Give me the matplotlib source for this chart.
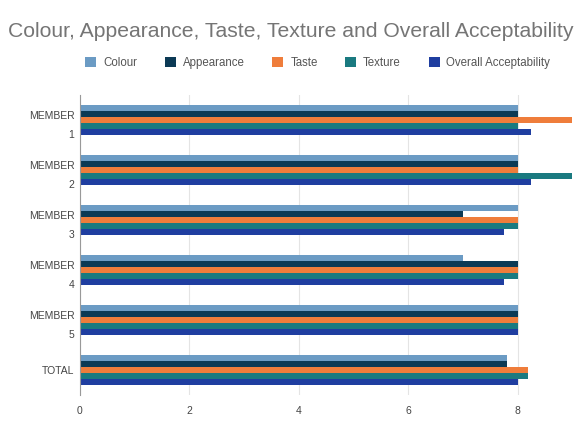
import matplotlib.pyplot as plt
import numpy as np

plt.rcParams['font.family'] = ['Liberation Sans', 'DejaVu Sans']

groups = ['MEMBER\n1', 'MEMBER\n2', 'MEMBER\n3', 'MEMBER\n4', 'MEMBER\n5', 'TOTAL']
series = ['Colour', 'Appearance', 'Taste', 'Texture', 'Overall Acceptability']
colour = [8, 8, 8, 7, 8, 7.8]
appearance = [8, 8, 7, 8, 8, 7.8]
taste = [9, 8, 8, 8, 8, 8.2]
texture = [8, 9, 8, 8, 8, 8.2]
overall = [8.25, 8.25, 7.75, 7.75, 8, 8.0]
values = [colour, appearance, taste, texture, overall]
colors = ['#6b9bc4', '#0c3a55', '#ef7d3b', '#1a7a80', '#1f3ea0']

fig = plt.figure(figsize=(5.79, 4.21), dpi=100)
ax = fig.add_axes([0.138, 0.062, 0.855, 0.713])

y = np.arange(len(groups))
h = 0.115
for i, (name, vals, c) in enumerate(zip(series, values, colors)):
    ax.barh(y - 0.24 + i * 0.12, vals, height=h, color=c, label=name)

ax.set_xlim(0, 9.05)
ax.set_ylim(5.5, -0.5)
ax.set_yticks(y)
ax.set_yticklabels(groups, fontsize=7.5, color='#444444', linespacing=2.1)
ax.set_xticks([0, 2, 4, 6, 8])
ax.tick_params(axis='x', labelsize=7.5, labelcolor='#444444', length=0, pad=8)
ax.tick_params(axis='y', length=0, pad=4)
ax.grid(axis='x', color='#e4e4e4', linewidth=0.8)
ax.set_axisbelow(True)
for s in ['top', 'right', 'bottom']:
    ax.spines[s].set_visible(False)
ax.spines['left'].set_color('#999999')

fig.text(0.014, 0.925, 'Colour, Appearance, Taste, Texture and Overall Acceptability',
         fontsize=15.2, color='#757575', va='center', ha='left')
fig.legend(loc='center', bbox_to_anchor=(0.549, 0.85), ncol=5, fontsize=8.3,
           frameon=False, handlelength=0.95, handleheight=0.95, columnspacing=2.4,
           handletextpad=0.6, labelcolor='#555555')

fig.savefig('out.png', dpi=100)
